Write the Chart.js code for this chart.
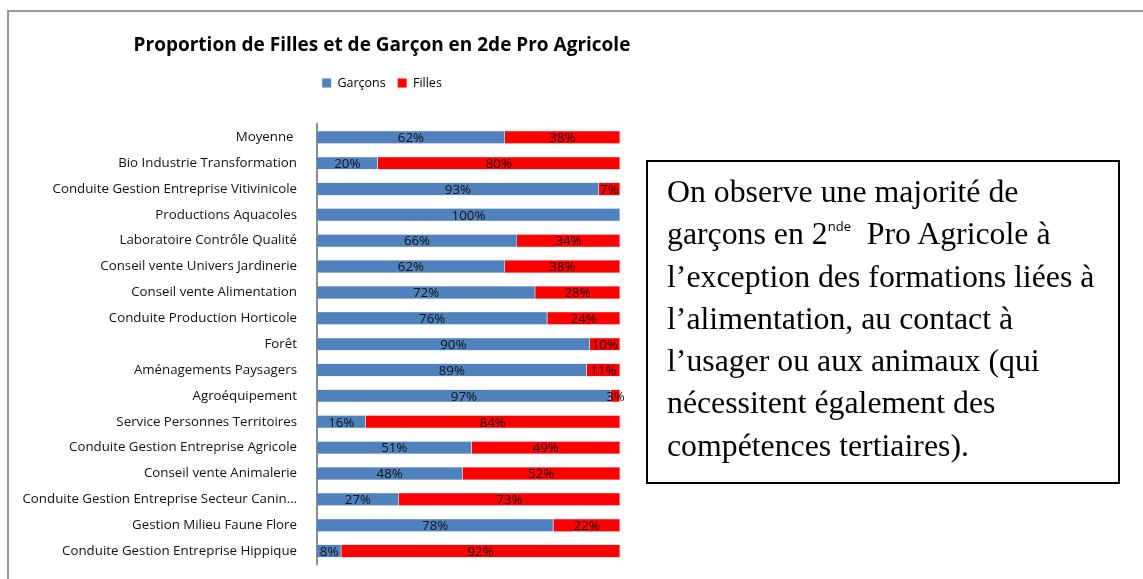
<!DOCTYPE html>
<html>
<head>
<meta charset="utf-8">
<script src="https://cdn.jsdelivr.net/npm/chart.js@4/dist/chart.umd.min.js"></script>
<style>
  html, body { margin: 0; padding: 0; background: #fff; overflow: hidden; }
  body { width: 1143px; height: 579px; position: relative; }
  #frame { position: absolute; left: 7px; top: 10px; width: 1200px; height: 700px; border-left: 2px solid #999; border-top: 2px solid #999; }
  #wrap { position: absolute; left: 0; top: 0; width: 764px; height: 579px; }
  #note {
    position: absolute; left: 646px; top: 160px; width: 470px; height: 320px;
    border: 2px solid #000; box-sizing: content-box;
    font-family: "Liberation Serif", "Times New Roman", serif; font-size: 31.8px; line-height: 42.3px;
    color: #000;
  }
  #note .txt { position: absolute; left: 19px; top: 9px; white-space: nowrap; }
  #note sup { font-family: "Open Sans", sans-serif; font-size: 13px; line-height: 0; vertical-align: 13px; }
</style>
</head>
<body>
<div id="frame"></div>
<div id="wrap"><canvas id="propChart"></canvas></div>
<div id="note"><div class="txt">On observe une majorité de<br>garçons en 2<sup>nde</sup>&nbsp; Pro Agricole à<br>l’exception des formations liées à<br>l’alimentation, au contact à<br>l’usager ou aux animaux (qui<br>nécessitent également des<br>compétences tertiaires).</div></div>
<script>
const categories = [
  "Moyenne ",
  "Bio Industrie Transformation",
  "Conduite Gestion Entreprise Vitivinicole",
  "Productions Aquacoles",
  "Laboratoire Contrôle Qualité",
  "Conseil vente Univers Jardinerie",
  "Conseil vente Alimentation",
  "Conduite Production Horticole",
  "Forêt",
  "Aménagements Paysagers",
  "Agroéquipement",
  "Service Personnes Territoires",
  "Conduite Gestion Entreprise Agricole",
  "Conseil vente Animalerie",
  "Conduite Gestion Entreprise Secteur Canin…",
  "Gestion Milieu Faune Flore",
  "Conduite Gestion Entreprise Hippique"
];
const garcons = [62, 20, 93, 100, 66, 62, 72, 76, 90, 89, 97, 16, 51, 48, 27, 78, 8];
const filles  = [38, 80, 7, 0, 34, 38, 28, 24, 10, 11, 3, 84, 49, 52, 73, 22, 92];

const font = "'Open Sans', Lato, sans-serif";

// draws the % value in the middle of each bar segment
const barLabels = {
  id: "barLabels",
  afterDatasetsDraw(chart) {
    const c = chart.ctx;
    c.save();
    c.font = "13.3px " + font;
    c.fillStyle = "#111";
    c.textAlign = "center";
    c.textBaseline = "middle";
    chart.data.datasets.forEach((ds, i) => {
      const meta = chart.getDatasetMeta(i);
      meta.data.forEach((bar, j) => {
        const v = ds.data[j];
        if (!v) return;
        c.fillText(v + "%", (bar.x + bar.base) / 2, bar.y + 1);
      });
    });
    c.restore();
  }
};

new Chart(document.getElementById("propChart").getContext("2d"), {
  type: "bar",
  data: {
    labels: categories,
    datasets: [
      { label: "Garçons", data: garcons, backgroundColor: "#4F81BD", borderColor: "#9bb7da", borderWidth: 0.5 },
      { label: "Filles", data: filles, backgroundColor: "#FF0000", borderColor: "#ff8080", borderWidth: 0.5 }
    ]
  },
  options: {
    indexAxis: "y",
    responsive: true,
    maintainAspectRatio: false,
    animation: false,
    categoryPercentage: 1,
    barPercentage: 0.5,
    layout: { padding: { left: 0, right: 0, top: 0, bottom: 15 } },
    scales: {
      x: {
        stacked: true, min: 0, max: 100, position: "top",
        grid: { display: false }, border: { display: false }, ticks: { display: false },
        afterFit(s) { s.height = 25; }
      },
      y: {
        stacked: true,
        grid: { display: false },
        border: { color: "#8c8c8c", width: 2 },
        ticks: { color: "#111", font: { family: font, size: 13.3 }, padding: 12, autoSkip: false },
        afterFit(s) { s.width = 317; s.paddingTop = 0; s.paddingBottom = 0; }
      },
      yR: {
        type: "category", position: "right", axis: "y",
        grid: { display: false }, border: { display: false }, ticks: { display: false },
        afterFit(s) { s.width = 144; }
      }
    },
    plugins: {
      title: {
        display: true,
        text: "Proportion de Filles et de Garçon en 2de Pro Agricole",
        color: "#000",
        font: { family: font, size: 19, weight: "bold" },
        padding: { top: 34, bottom: 8 }
      },
      legend: {
        position: "top",
        labels: { boxWidth: 9, boxHeight: 9, color: "#000", font: { family: font, size: 12.5 }, padding: 12 }
      },
      tooltip: { enabled: false }
    }
  },
  plugins: [barLabels]
});
</script>
</body>
</html>
